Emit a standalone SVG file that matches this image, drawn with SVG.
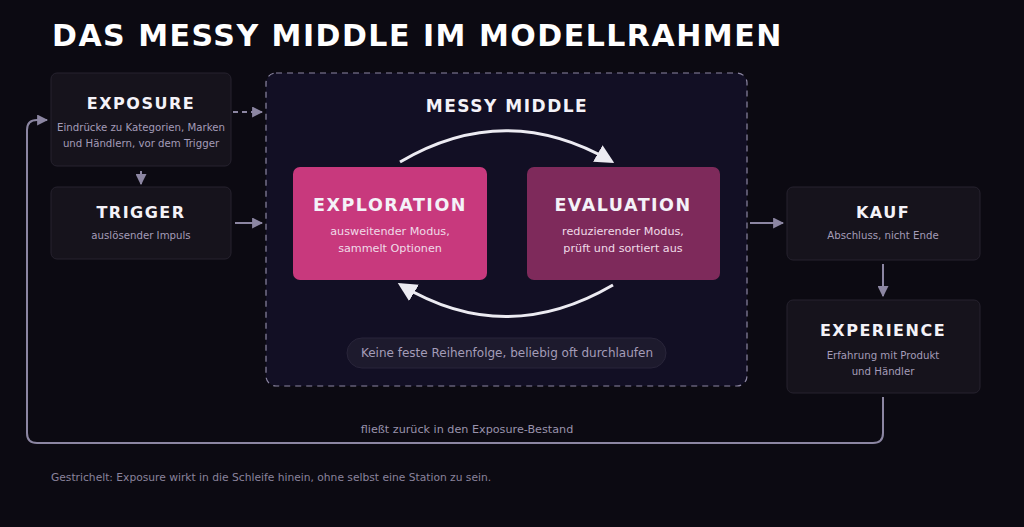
<svg xmlns="http://www.w3.org/2000/svg" width="1024" height="527" viewBox="0 0 1024 527">
<defs>
<style>
.bg{fill:#0c0a12}
.card{fill:#16131c;stroke:#26222e;stroke-width:1}
.h{font-family:"DejaVu Sans",sans-serif;font-weight:bold;fill:#f4f2f8;text-anchor:middle;letter-spacing:1.5px}
.s{font-family:"DejaVu Sans",sans-serif;fill:#a49cb8;text-anchor:middle;font-size:10.2px}
.sw{font-family:"DejaVu Sans",sans-serif;fill:#f0dbe8;text-anchor:middle;font-size:11.2px}
.con{fill:none;stroke:#8c86a2;stroke-width:2}
.arc{fill:none;stroke:#ecebf2;stroke-width:3}
</style>
<marker id="ah" viewBox="0 0 10 10" refX="9" refY="5" markerWidth="5.5" markerHeight="5.5" orient="auto" markerUnits="strokeWidth">
<path d="M0,0 L10,5 L0,10 z" fill="#8c86a2"/>
</marker>
<marker id="aw2" viewBox="0 0 10 10" refX="8" refY="5" markerWidth="19" markerHeight="19" orient="auto" markerUnits="userSpaceOnUse">
<path d="M0,0 L10,5 L0,10 z" fill="#ecebf2"/>
</marker>
</defs>
<rect class="bg" x="0" y="0" width="1024" height="527"/>
<text x="52" y="46" font-family="DejaVu Sans, sans-serif" font-weight="bold" font-size="30" fill="#ffffff" letter-spacing="1.5">DAS MESSY MIDDLE IM MODELLRAHMEN</text>

<g id="connectors">
<path class="con" d="M233,112 L262,112" stroke-dasharray="5,4" marker-end="url(#ah)"/>
<path class="con" d="M141,171 L141,184" marker-end="url(#ah)"/>
<path class="con" d="M235,223 L262,223" marker-end="url(#ah)"/>
<path class="con" d="M750,223 L783,223" marker-end="url(#ah)"/>
<path class="con" d="M883,264 L883,296" marker-end="url(#ah)"/>
<path class="con" d="M883,397 L883,433 Q883,443 873,443 L37,443 Q27,443 27,433 L27,130 Q27,120 37,120 L47,120" marker-end="url(#ah)"/>
<text x="467" y="433" font-family="DejaVu Sans, sans-serif" font-size="11.2" fill="#9a93ac" text-anchor="middle">fließt zurück in den Exposure-Bestand</text>
</g>

<g id="exposure">
<rect class="card" x="51" y="73" width="180" height="93" rx="6"/>
<text class="h" x="141" y="109" font-size="16">EXPOSURE</text>
<text class="s" x="141" y="131">Eindrücke zu Kategorien, Marken</text>
<text class="s" x="141" y="147">und Händlern, vor dem Trigger</text>
</g>

<g id="trigger">
<rect class="card" x="51" y="187" width="180" height="72" rx="6"/>
<text class="h" x="141" y="218" font-size="16">TRIGGER</text>
<text class="s" x="141" y="239">auslösender Impuls</text>
</g>

<g id="messy-middle">
<rect x="266" y="73" width="481" height="313" rx="10" fill="#120f24" stroke="#8c86a2" stroke-width="1.2" stroke-dasharray="6,5"/>
<text class="h" x="507" y="112" font-size="17">MESSY MIDDLE</text>
</g>

<g id="exploration">
<rect x="293" y="167" width="194" height="113" rx="7" fill="#c8397d"/>
<text class="h" x="390" y="211" font-size="17.5">EXPLORATION</text>
<text class="sw" x="390" y="235">ausweitender Modus,</text>
<text class="sw" x="390" y="252">sammelt Optionen</text>
</g>

<g id="evaluation">
<rect x="527" y="167" width="193" height="113" rx="7" fill="#7e2a5b"/>
<text class="h" x="623" y="211" font-size="17.5">EVALUATION</text>
<text class="sw" x="623" y="235">reduzierender Modus,</text>
<text class="sw" x="623" y="252">prüft und sortiert aus</text>
</g>

<g id="loop-arcs">
<path class="arc" d="M400,162 Q505,100 611,161" marker-end="url(#aw2)"/>
<path class="arc" d="M613,285 Q505,348 401,285" marker-end="url(#aw2)"/>
</g>

<g id="note">
<rect x="347" y="338" width="319" height="30" rx="15" fill="#1d1a2d" stroke="#29253a" stroke-width="1"/>
<text x="507" y="357" font-family="DejaVu Sans, sans-serif" font-size="12" fill="#a49cb8" text-anchor="middle">Keine feste Reihenfolge, beliebig oft durchlaufen</text>
</g>

<g id="kauf">
<rect class="card" x="787" y="187" width="193" height="73" rx="6"/>
<text class="h" x="883" y="218" font-size="16">KAUF</text>
<text class="s" x="883" y="239">Abschluss, nicht Ende</text>
</g>

<g id="experience">
<rect class="card" x="787" y="300" width="193" height="93" rx="6"/>
<text class="h" x="883" y="336" font-size="16">EXPERIENCE</text>
<text class="s" x="883" y="359">Erfahrung mit Produkt</text>
<text class="s" x="883" y="375">und Händler</text>
</g>

<text x="51" y="481" font-family="DejaVu Sans, sans-serif" font-size="10.7" fill="#8a839c">Gestrichelt: Exposure wirkt in die Schleife hinein, ohne selbst eine Station zu sein.</text>
</svg>
